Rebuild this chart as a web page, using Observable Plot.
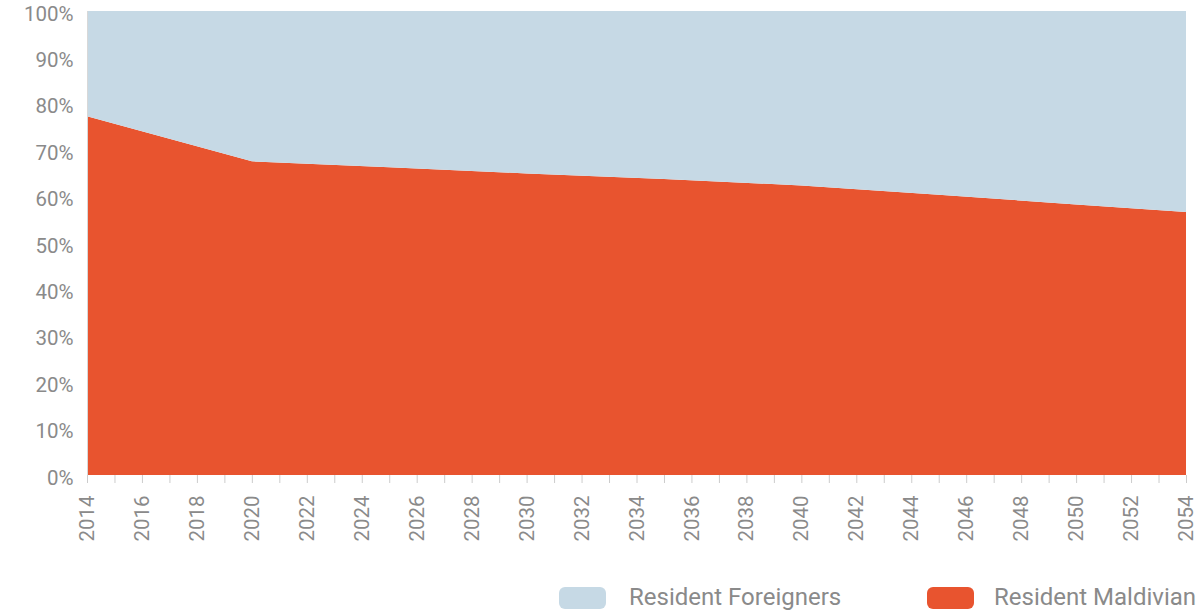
<!DOCTYPE html>
<html>
<head>
<meta charset="utf-8">
<script src="https://cdn.jsdelivr.net/npm/d3@7"></script>
<script src="https://cdn.jsdelivr.net/npm/@observablehq/plot@0.6"></script>
<style>
  html, body { margin: 0; padding: 0; background: #fff; width: 1200px; height: 612px; overflow: hidden; }
  #chart svg { display: block; }
  #legend { position: relative; height: 42px; font-family: Roboto, "Noto Sans", sans-serif; }
  .item { position: absolute; top: 0; height: 42px; }
  .sw { position: absolute; top: 17px; width: 47px; height: 22px; border-radius: 6px; }
  .lab { position: absolute; top: 13px; font-size: 24px; color: #8a8a8a; white-space: nowrap; line-height: 28px; }
</style>
</head>
<body>
<div id="chart"></div>
<div id="legend"></div>
<script>
const years = [2014, 2020, 2025, 2030, 2035, 2040, 2045, 2050, 2054];
const maldivian = [77.3, 67.6, 66.3, 65.0, 63.8, 62.4, 60.4, 58.3, 56.7];
const foreigners = [22.7, 32.4, 33.7, 35.0, 36.2, 37.6, 39.6, 41.7, 43.3];
const seriesNames = ["Resident Maldivian", "Resident Foreigners"];
const seriesColors = ["#e8542f", "#c6d9e5"];
const yTicks = [0, 10, 20, 30, 40, 50, 60, 70, 80, 90, 100];
const xMinorTicks = d3.range(2014, 2055, 1);
const xLabelTicks = d3.range(2014, 2055, 2);

const data = [];
years.forEach((yr, i) => {
  data.push({year: yr, series: seriesNames[0], value: maldivian[i]});
  data.push({year: yr, series: seriesNames[1], value: foreigners[i]});
});

const chart = Plot.plot({
  width: 1200,
  height: 570,
  marginLeft: 87,
  marginRight: 14,
  marginTop: 11,
  marginBottom: 95,
  style: {fontFamily: "Roboto, 'Noto Sans', sans-serif", background: "#fff"},
  x: {domain: [2014, 2054], axis: null},
  y: {domain: [0, 100], axis: null},
  color: {domain: seriesNames, range: seriesColors},
  marks: [
    Plot.areaY(data, {x: "year", y: "value", fill: "series", order: seriesNames, curve: "linear"}),
    Plot.ruleX([2014], {stroke: "#d8d8d8", strokeWidth: 1}),
    Plot.axisX({ticks: xMinorTicks, tickSize: 8, stroke: "#cccccc", text: null, tickPadding: 0, label: null}),
    Plot.text(xLabelTicks, {x: d => d, text: d => String(d), frameAnchor: "bottom", rotate: -90,
      textAnchor: "end", lineAnchor: "middle", dy: 20, fontSize: 20.5, fill: "#8a8a8a"}),
    Plot.axisY({ticks: yTicks, tickSize: 0, tickPadding: 14, tickFormat: d => d + "%",
      fontSize: 20.5, fill: "#8a8a8a", dy: 2.5, label: null})
  ]
});
document.getElementById("chart").appendChild(chart);

const legendItems = [
  {name: "Resident Foreigners", color: seriesColors[1], left: 559, gap: 70},
  {name: "Resident Maldivian", color: seriesColors[0], left: 927, gap: 67}
];
const legend = document.getElementById("legend");
legendItems.forEach(it => {
  const div = document.createElement("div");
  div.className = "item";
  div.style.left = it.left + "px";
  const sw = document.createElement("div");
  sw.className = "sw";
  sw.style.background = it.color;
  const lab = document.createElement("div");
  lab.className = "lab";
  lab.style.left = it.gap + "px";
  lab.textContent = it.name;
  div.appendChild(sw);
  div.appendChild(lab);
  legend.appendChild(div);
});
</script>
</body>
</html>
